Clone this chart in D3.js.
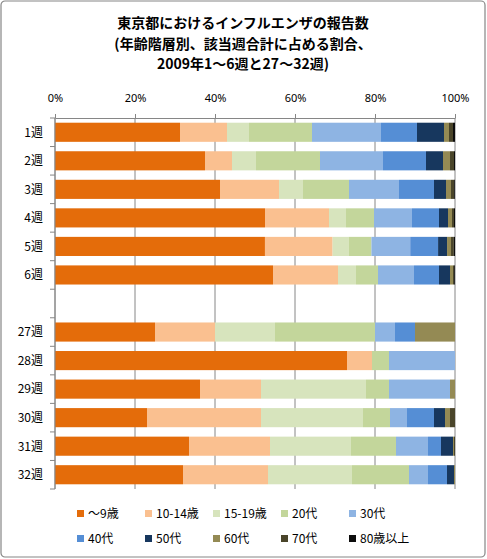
<!DOCTYPE html>
<html>
<head>
<meta charset="utf-8">
<title>東京都におけるインフルエンザの報告数</title>
<script src="https://d3js.org/d3.v7.min.js"></script>
<style>
  body { margin: 0; background: #fff; }
  svg { font-family: "Noto Sans CJK JP", sans-serif; }
</style>
</head>
<body>
<div id="chart"></div>
<script>
// 週 (空文字は1〜6週と27〜32週の間の空き)
let weeks = ["1週", "2週", "3週", "4週", "5週", "6週", "", "27週", "28週", "29週", "30週", "31週", "32週"];
let ageGroups = ["〜9歳", "10-14歳", "15-19歳", "20代", "30代", "40代", "50代", "60代", "70代", "80歳以上"];
let ageColors = ["#E46C0A", "#FAC090", "#D7E4BD", "#C3D69B", "#8EB4E3", "#558ED5", "#17375E", "#948A54", "#4A452A", "#0D0D0D"];
let xTicks = [0, 0.2, 0.4, 0.6, 0.8, 1];

// 各週の年齢階層別割合 (%)
let w01 = [31.25, 11.75, 5.5, 15.75, 17.25, 9.0, 6.75, 1.25, 1.0, 0.5];
let w02 = [37.5, 6.75, 6.0, 16.0, 15.75, 10.75, 4.25, 1.75, 1.0, 0.25];
let w03 = [41.25, 14.75, 6.0, 11.5, 12.5, 8.75, 3.0, 1.25, 0.8, 0.2];
let w04 = [52.5, 16.0, 4.25, 7.0, 9.5, 6.75, 2.25, 1.0, 0.5, 0.25];
let w05 = [52.75, 17.0, 4.0, 5.75, 9.75, 7.0, 2.25, 1.0, 0.7, 0.3];
let w06 = [54.5, 16.25, 4.5, 5.5, 9.0, 6.25, 2.75, 0.75, 0.3, 0.2];
let w27 = [25, 15, 15, 25, 5, 5, 0, 10, 0, 0];
let w28 = [73.0, 6.25, 0, 4.25, 16.5, 0, 0, 0, 0, 0];
let w29 = [36.25, 15.25, 26.25, 5.75, 15.25, 0, 0, 1.25, 0, 0];
let w30 = [23.0, 28.5, 25.5, 6.75, 4.25, 6.75, 2.75, 1.25, 1.25, 0];
let w31 = [33.5, 20.25, 20.25, 11.25, 8.0, 3.25, 3.0, 0.25, 0.25, 0];
let w32 = [32.0, 21.25, 21.0, 14.25, 4.75, 4.75, 1.75, 0.25, 0, 0];
let blank = [0, 0, 0, 0, 0, 0, 0, 0, 0, 0];

let rowsValues = [w01, w02, w03, w04, w05, w06, blank, w27, w28, w29, w30, w31, w32];

let W = 487, H = 559;
let margin = { top: 118, right: 32, bottom: 70, left: 55 };

let svg = d3.select("#chart").append("svg")
    .attr("width", W)
    .attr("height", H);

// 外枠
svg.append("rect")
    .attr("x", 1).attr("y", 1)
    .attr("width", W - 3).attr("height", H - 3)
    .attr("rx", 4)
    .attr("fill", "#fff")
    .attr("stroke", "#868686")
    .attr("stroke-width", 1.2);

// タイトル
let titleLines = ["東京都におけるインフルエンザの報告数", "(年齢階層別、該当週合計に占める割合、", "2009年1〜6週と27〜32週)"];
svg.append("text")
    .attr("x", 243)
    .attr("y", 28)
    .attr("text-anchor", "middle")
    .style("font-size", "14px")
    .style("font-weight", "bold")
    .selectAll("tspan")
    .data(titleLines).enter()
    .append("tspan")
    .attr("x", 243)
    .attr("dy", function(d, i){ return i === 0 ? 0 : 20.5; })
    .text(function(d){ return d; });

// データを表に
let table = weeks.map(function(w, i){
  let row = { week: w, key: "k" + i };
  ageGroups.forEach(function(a, j){ row[a] = rowsValues[i][j]; });
  return row;
});

// 100%積み上げ (空き行は合計0なのでそのまま)
let series = d3.stack()
    .keys(ageGroups)
    .offset(d3.stackOffsetExpand)(table);

let x = d3.scaleLinear()
    .domain([0, 1])
    .range([margin.left, W - margin.right]);

let y = d3.scaleBand()
    .domain(table.map(function(d){ return d.key; }))
    .range([margin.top, H - margin.bottom])
    .paddingInner(0.33)
    .paddingOuter(0.165);

// グリッド線
svg.append("g")
    .selectAll("line")
    .data(xTicks).enter()
    .append("line")
    .attr("x1", function(d){ return x(d); })
    .attr("x2", function(d){ return x(d); })
    .attr("y1", margin.top)
    .attr("y2", H - margin.bottom)
    .attr("stroke", "#868686")
    .attr("stroke-width", 1);

// 上の軸
let xAxis = d3.axisTop(x)
    .tickValues(xTicks)
    .tickFormat(d3.format(".0%"))
    .tickSize(4)
    .tickSizeOuter(0)
    .tickPadding(12);

let gx = svg.append("g")
    .attr("transform", "translate(0," + margin.top + ")")
    .call(xAxis);
gx.selectAll("path, line").attr("stroke", "#868686");
gx.selectAll("text")
    .style("font-size", "11px")
    .style("font-family", "'Noto Sans', sans-serif")
    .attr("fill", "#000");

// バー
svg.append("g")
    .selectAll("g")
    .data(series).enter()
    .append("g")
    .attr("fill", function(d, i){ return ageColors[i]; })
    .selectAll("rect")
    .data(function(d){ return d.filter(function(p){ return p.data.week !== ""; }); }).enter()
    .append("rect")
    .attr("x", function(d){ return x(d[0]); })
    .attr("y", function(d){ return y(d.data.key); })
    .attr("width", function(d){ return Math.max(0, x(d[1]) - x(d[0])); })
    .attr("height", y.bandwidth());

// 左の軸 (目盛は項目の間)
svg.append("line")
    .attr("x1", margin.left).attr("x2", margin.left)
    .attr("y1", margin.top).attr("y2", H - margin.bottom)
    .attr("stroke", "#868686");

let bounds = d3.range(weeks.length + 1).map(function(i){ return margin.top + i * y.step(); });
svg.append("g")
    .selectAll("line")
    .data(bounds).enter()
    .append("line")
    .attr("x1", margin.left - 5).attr("x2", margin.left)
    .attr("y1", function(d){ return d; })
    .attr("y2", function(d){ return d; })
    .attr("stroke", "#868686");

svg.append("g")
    .selectAll("text")
    .data(table).enter()
    .append("text")
    .attr("x", 43)
    .attr("y", function(d){ return y(d.key) + y.bandwidth() / 2; })
    .attr("dy", "0.36em")
    .attr("text-anchor", "end")
    .style("font-size", "12px")
    .text(function(d){ return d.week; });

// 凡例
let legend = svg.append("g")
    .selectAll("g")
    .data(ageGroups).enter()
    .append("g")
    .attr("transform", function(d, i){
      let col = i % 5, row = Math.floor(i / 5);
      return "translate(" + (77 + col * 68) + "," + (514 + row * 25) + ")";
    });

legend.append("rect")
    .attr("x", 0).attr("y", -4)
    .attr("width", 7).attr("height", 7)
    .attr("fill", function(d, i){ return ageColors[i]; });

legend.append("text")
    .attr("x", 11)
    .attr("y", 0)
    .attr("dy", "0.36em")
    .style("font-size", "12px")
    .text(function(d){ return d; });
</script>
</body>
</html>
